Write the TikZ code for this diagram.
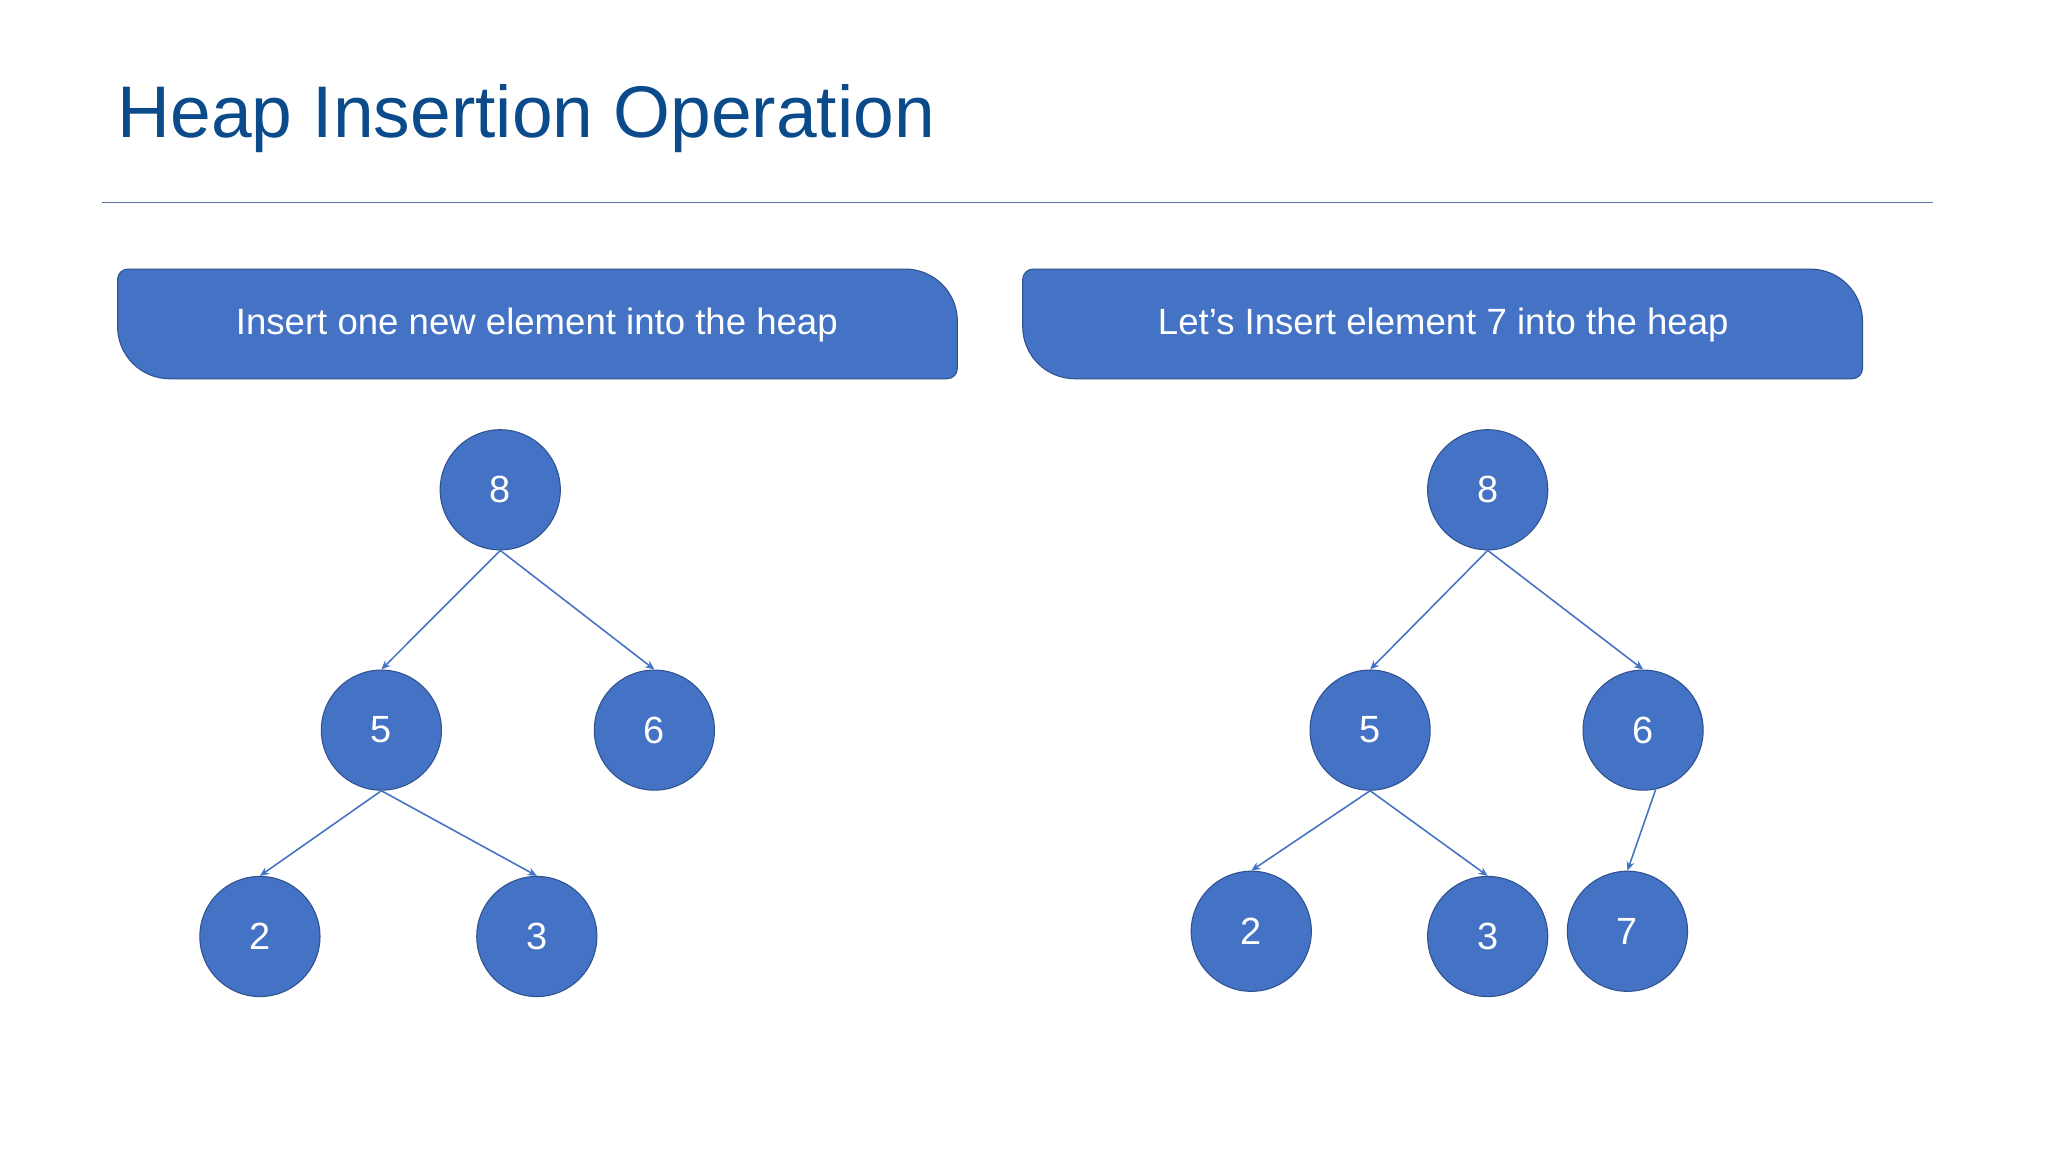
\documentclass[tikz,border=0pt]{standalone}
\usepackage{fontspec}
\setmainfont{Liberation Sans}
\usetikzlibrary{arrows.meta}
\definecolor{nodeblue}{HTML}{4472C4}
\definecolor{edgeblue}{HTML}{2F528F}
\definecolor{titleblue}{HTML}{0B4A8B}
\begin{document}
\begin{tikzpicture}[x=1pt,y=1pt,
  hn/.style={circle,draw=edgeblue,fill=nodeblue,line width=0.8pt,minimum size=92pt,inner sep=0pt,text=white,font=\fontsize{29}{32}\selectfont},
  ed/.style={draw=nodeblue,line width=1.2pt,-{Stealth[length=7pt,width=6pt]}},
  bx/.style={draw=edgeblue,fill=nodeblue,line width=0.8pt},
  bt/.style={text=white,font=\fontsize{28}{32}\selectfont}]
\useasboundingbox (0,0) rectangle (1568,-882);
\fill[white] (0,0) rectangle (1568,-882);
\node[anchor=base west,inner sep=0pt,text=titleblue,font=\fontsize{56}{60}\selectfont] (title) at (90,-105) {Heap Insertion Operation};
\coordinate (l1) at (78,-155); \coordinate (l2) at (1480,-155);
\draw[edgeblue!80,line width=1pt] (l1) -- (l2);
\foreach \dx in {0,693}{
\draw[bx] (98+\dx,-206) -- (693+\dx,-206) arc[start angle=90,end angle=0,radius=40] -- (733+\dx,-282) arc[start angle=0,end angle=-90,radius=8] -- (130+\dx,-290) arc[start angle=270,end angle=180,radius=40] -- (90+\dx,-214) arc[start angle=180,end angle=90,radius=8] -- cycle;}
\node[bt] (t1) at (411,-249) {Insert one new element into the heap};
\node[bt] (t2) at (1105,-249) {Let’s Insert element 7 into the heap};
\node[hn] (a8) at (383,-375) {8};
\node[hn] (a5) at (292,-559) {5};
\node[hn] (a6) at (501,-559) {6};
\node[hn] (a2) at (199,-717) {2};
\node[hn] (a3) at (411,-717) {3};
\draw[ed] (a8.south) -- (a5.north);
\draw[ed] (a8.south) -- (a6.north);
\draw[ed] (a5.south) -- (a2.north);
\draw[ed] (a5.south) -- (a3.north);
\node[hn] (b8) at (1139,-375) {8};
\node[hn] (b5) at (1049,-559) {5};
\node[hn] (b6) at (1258,-559) {6};
\node[hn] (b2) at (958,-713) {2};
\node[hn] (b3) at (1139,-717) {3};
\node[hn] (b7) at (1246,-713) {7};
\draw[ed] (b8.south) -- (b5.north);
\draw[ed] (b8.south) -- (b6.north);
\draw[ed] (b5.south) -- (b2.north);
\draw[ed] (b5.south) -- (b3.north);
\draw[ed] (b6.-78) -- (b7.north);
\end{tikzpicture}
\end{document}
